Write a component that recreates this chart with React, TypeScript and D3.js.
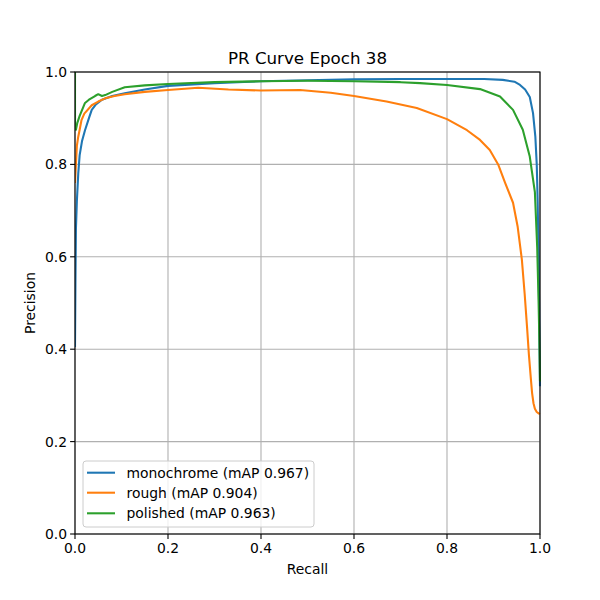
import React from "react";
import * as d3 from "d3";

const seriesNames = ["monochrome (mAP 0.967)", "rough (mAP 0.904)", "polished (mAP 0.963)"];
const seriesColors = ["#1f77b4", "#ff7f0e", "#2ca02c"];

const monoRecall = [0, 0.001, 0.002, 0.004, 0.007, 0.01, 0.015, 0.0215, 0.03, 0.036, 0.045, 0.058, 0.08, 0.107, 0.15, 0.2, 0.3, 0.4, 0.5, 0.6, 0.7, 0.8, 0.88, 0.92, 0.945, 0.957, 0.968, 0.978, 0.985, 0.99, 0.993, 0.995, 0.997, 0.998, 0.999, 1.0];
const monoPrecision = [0.405, 0.55, 0.66, 0.72, 0.78, 0.82, 0.85, 0.874, 0.9, 0.918, 0.93, 0.94, 0.948, 0.954, 0.962, 0.97, 0.976, 0.98, 0.982, 0.984, 0.985, 0.985, 0.985, 0.983, 0.979, 0.972, 0.962, 0.946, 0.911, 0.86, 0.8, 0.72, 0.6, 0.5, 0.4, 0.32];

const roughRecall = [0, 0.002, 0.004, 0.007, 0.01, 0.014, 0.02, 0.036, 0.05, 0.065, 0.085, 0.107, 0.15, 0.2, 0.265, 0.33, 0.4, 0.484, 0.55, 0.6, 0.67, 0.735, 0.8, 0.843, 0.871, 0.892, 0.91, 0.925, 0.942, 0.952, 0.961, 0.967, 0.972, 0.976, 0.98, 0.983, 0.986, 0.989, 0.993, 0.997, 1.0];
const roughPrecision = [0.76, 0.8, 0.84, 0.86, 0.875, 0.896, 0.91, 0.928, 0.936, 0.943, 0.948, 0.952, 0.957, 0.961, 0.966, 0.962, 0.96, 0.961, 0.955, 0.948, 0.936, 0.922, 0.898, 0.874, 0.853, 0.831, 0.8, 0.76, 0.717, 0.665, 0.594, 0.52, 0.45, 0.39, 0.34, 0.305, 0.283, 0.271, 0.264, 0.261, 0.26];

const polRecall = [0, 0, 0.002, 0.005, 0.01, 0.0215, 0.03, 0.043, 0.05, 0.058, 0.065, 0.08, 0.107, 0.15, 0.2, 0.3, 0.4, 0.5, 0.6, 0.7, 0.742, 0.8, 0.871, 0.914, 0.942, 0.963, 0.978, 0.989, 0.994, 0.997, 0.999, 1.0];
const polPrecision = [1.0, 0.88, 0.875, 0.89, 0.905, 0.933, 0.94, 0.948, 0.952, 0.948, 0.95, 0.957, 0.967, 0.971, 0.974, 0.978, 0.98, 0.981, 0.98, 0.978, 0.976, 0.972, 0.963, 0.947, 0.918, 0.875, 0.817, 0.74, 0.62, 0.5, 0.4, 0.33];

const xTicks = [0, 0.2, 0.4, 0.6, 0.8, 1.0];
const yTicks = [0, 0.2, 0.4, 0.6, 0.8, 1.0];

const titleText = "PR Curve Epoch 38";
const xLabel = "Recall";
const yLabel = "Precision";

export default function App() {
  const W = 600, H = 600;
  const left = 75, right = 540, top = 72, bottom = 534;
  const x = d3.scaleLinear().domain([0, 1]).range([left, right]);
  const y = d3.scaleLinear().domain([0, 1]).range([bottom, top]);
  const series = [
    { r: monoRecall, p: monoPrecision },
    { r: roughRecall, p: roughPrecision },
    { r: polRecall, p: polPrecision },
  ];
  const line = d3
    .line<[number, number]>()
    .x((d) => x(d[0]))
    .y((d) => y(d[1]));
  const font = "DejaVu Sans, sans-serif";
  const legX = 83, legY = 461, legW = 231, legH = 66;
  const rowY = [472.7, 492.7, 513.3];
  return (
    <svg width={W} height={H} style={{ position: "absolute", left: 0, top: 0, background: "#fff" }} fontFamily={font}>
      <rect x={0} y={0} width={W} height={H} fill="#fff" />
      <text x={(left + right) / 2} y={64} textAnchor="middle" fontSize={16.7} fill="#000">{titleText}</text>
      {xTicks.map((t) => (
        <line key={"gx" + t} x1={x(t)} x2={x(t)} y1={top} y2={bottom} stroke="#b0b0b0" strokeWidth={1.1} />
      ))}
      {yTicks.map((t) => (
        <line key={"gy" + t} x1={left} x2={right} y1={y(t)} y2={y(t)} stroke="#b0b0b0" strokeWidth={1.1} />
      ))}
      <defs>
        <clipPath id="plotclip">
          <rect x={left} y={top - 1} width={right - left + 1} height={bottom - top + 2} />
        </clipPath>
      </defs>
      <g clipPath="url(#plotclip)">
        {series.map((s, i) => (
          <path
            key={i}
            d={line(s.r.map((r, j) => [r, s.p[j]] as [number, number])) || ""}
            fill="none"
            stroke={seriesColors[i]}
            strokeWidth={2.08}
            strokeLinejoin="round"
          />
        ))}
      </g>
      <rect x={left} y={top} width={right - left} height={bottom - top} fill="none" stroke="#000" strokeWidth={1.1} />
      {xTicks.map((t) => (
        <g key={"tx" + t}>
          <line x1={x(t)} x2={x(t)} y1={bottom} y2={bottom + 4.9} stroke="#000" strokeWidth={1.1} />
          <text x={x(t)} y={bottom + 19} textAnchor="middle" fontSize={13.9} fill="#000">{t.toFixed(1)}</text>
        </g>
      ))}
      {yTicks.map((t) => (
        <g key={"ty" + t}>
          <line x1={left - 4.9} x2={left} y1={y(t)} y2={y(t)} stroke="#000" strokeWidth={1.1} />
          <text x={left - 8} y={y(t) + 5} textAnchor="end" fontSize={13.9} fill="#000">{t.toFixed(1)}</text>
        </g>
      ))}
      <text x={(left + right) / 2} y={574} textAnchor="middle" fontSize={13.9} fill="#000">{xLabel}</text>
      <text transform={`translate(35, ${(top + bottom) / 2}) rotate(-90)`} textAnchor="middle" fontSize={13.9} fill="#000">{yLabel}</text>
      <rect x={legX} y={legY} width={legW} height={legH} rx={3} fill="#fff" fillOpacity={0.8} stroke="#cccccc" strokeWidth={1} />
      {seriesNames.map((n, i) => (
        <g key={n}>
          <line x1={87} x2={115} y1={rowY[i]} y2={rowY[i]} stroke={seriesColors[i]} strokeWidth={2.08} />
          <text x={126.5} y={rowY[i] + 5} fontSize={13.9} fill="#000">{n}</text>
        </g>
      ))}
    </svg>
  );
}
